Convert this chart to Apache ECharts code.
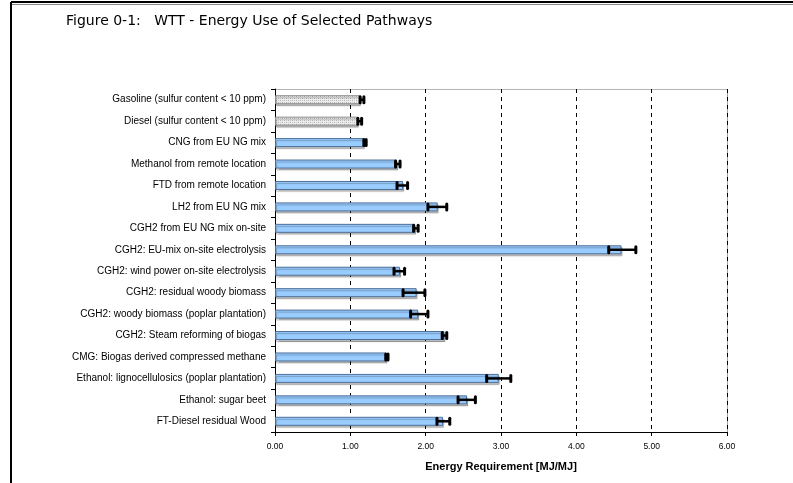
<!DOCTYPE html>
<html><head><meta charset="utf-8">
<script src="https://cdn.jsdelivr.net/npm/echarts@6/dist/echarts.min.js"></script>
<style>html,body{margin:0;padding:0;background:#fff}#c{width:793px;height:483px}</style>
</head><body><div id="c"></div>
<script>
const categories = [
  "Gasoline (sulfur content < 10 ppm)",
  "Diesel (sulfur content < 10 ppm)",
  "CNG from EU NG mix",
  "Methanol from remote location",
  "FTD from remote location",
  "LH2 from EU NG mix",
  "CGH2 from EU NG mix on-site",
  "CGH2: EU-mix on-site electrolysis",
  "CGH2: wind power on-site electrolysis",
  "CGH2: residual woody biomass",
  "CGH2: woody biomass (poplar plantation)",
  "CGH2: Steam reforming of biogas",
  "CMG: Biogas derived compressed methane",
  "Ethanol: lignocellulosics (poplar plantation)",
  "Ethanol: sugar beet",
  "FT-Diesel residual Wood"
];
const values  = [1.13, 1.10, 1.18, 1.62, 1.70, 2.16, 1.86, 4.60, 1.66, 1.88, 1.90, 2.25, 1.48, 2.97, 2.55, 2.23];
const errLow  = [1.13, 1.10, 1.18, 1.60, 1.62, 2.03, 1.84, 4.43, 1.58, 1.70, 1.80, 2.22, 1.47, 2.81, 2.43, 2.15];
const errHigh = [1.18, 1.15, 1.21, 1.66, 1.76, 2.28, 1.90, 4.79, 1.72, 1.99, 2.03, 2.28, 1.50, 3.13, 2.66, 2.32];
const fossilFlags = [true, true, false, false, false, false, false, false, false, false, false, false, false, false, false, false];
const xTicks = [0, 1, 2, 3, 4, 5, 6];

// dotted pattern for fossil references
const pc = document.createElement('canvas');
pc.width = 4; pc.height = 4;
const g = pc.getContext('2d');
g.fillStyle = '#ececec'; g.fillRect(0,0,4,4);
g.fillStyle = '#b0b0b0';
g.fillRect(0,0,1,1); g.fillRect(2,2,1,1);
g.fillStyle = '#cfcfcf'; g.fillRect(2,0,1,1); g.fillRect(0,2,1,1);

const barData = values.map((v, i) => ({
  value: v,
  itemStyle: fossilFlags[i] ? { color: { image: pc, repeat: 'repeat' }, borderColor: '#8a8a8a' } : {}
}));
const errData = categories.map((c, i) => [i, errLow[i], errHigh[i]]);

const chart = echarts.init(document.getElementById('c'), null, { renderer: 'canvas' });
chart.setOption({
  animation: false,
  backgroundColor: '#fff',
  title: {
    text: 'Figure 0-1:   WTT - Energy Use of Selected Pathways',
    left: 61, top: 9,
    textStyle: { fontFamily: 'DejaVu Sans', fontSize: 14, fontWeight: 'normal', color: '#000' }
  },
  graphic: [
    { type: 'line', shape: { x1: 11, y1: 2, x2: 793, y2: 2 }, style: { stroke: '#000', lineWidth: 2 } },
    { type: 'line', shape: { x1: 11, y1: 4.5, x2: 793, y2: 4.5 }, style: { stroke: '#888', lineWidth: 1 } },
    { type: 'line', shape: { x1: 11, y1: 2, x2: 11, y2: 483 }, style: { stroke: '#000', lineWidth: 2 } },
    { type: 'line', shape: { x1: 275, y1: 89.5, x2: 727.5, y2: 89.5 }, style: { stroke: '#b4b4b4', lineWidth: 1 } },
    { type: 'line', shape: { x1: 727.5, y1: 89.5, x2: 727.5, y2: 432 }, style: { stroke: '#a0a0a0', lineWidth: 1 } }
  ],
  grid: { left: 275, right: 66, top: 89, bottom: 51, containLabel: false },
  xAxis: {
    type: 'value', min: 0, max: 6, interval: 1,
    name: 'Energy Requirement [MJ/MJ]', nameLocation: 'middle', nameGap: 29,
    nameTextStyle: { fontFamily: 'Liberation Sans', fontSize: 11, fontWeight: 'bold', color: '#000' },
    axisLine: { show: true, lineStyle: { color: '#000', width: 1 } },
    axisTick: { show: true, length: 4, lineStyle: { color: '#000' } },
    axisLabel: { fontFamily: 'Liberation Sans', fontSize: 8.5, color: '#000', margin: 10,
      formatter: v => xTicks.includes(v) ? v.toFixed(2) : '' },
    splitLine: { show: true, lineStyle: { color: '#000', type: [4, 4], width: 1 } }
  },
  yAxis: {
    type: 'category', data: categories, inverse: true,
    axisLine: { show: true, lineStyle: { color: '#000', width: 1 } },
    axisTick: { show: true, length: 4, lineStyle: { color: '#000' } },
    axisLabel: { fontFamily: 'Liberation Sans', fontSize: 10, color: '#000', margin: 9 },
    splitLine: { show: false }
  },
  series: [
    {
      type: 'bar', data: barData, barWidth: 9,
      itemStyle: { color: '#99ccff', borderColor: '#4d6f99', borderWidth: 1,
        shadowColor: 'rgba(0,0,0,0.25)', shadowOffsetX: 1, shadowOffsetY: 2, shadowBlur: 1 },
      z: 2
    },
    {
      type: 'custom', data: errData, z: 5,
      renderItem: function (params, api) {
        const cat = api.value(0);
        const lo = api.coord([api.value(1), cat]);
        const hi = api.coord([api.value(2), cat]);
        const y = lo[1];
        const h = 9;
        return {
          type: 'group',
          children: [
            { type: 'line', shape: { x1: lo[0], y1: y, x2: hi[0], y2: y }, style: { stroke: '#000', lineWidth: 2.5 } },
            { type: 'rect', shape: { x: lo[0] - 1.5, y: y - h / 2, width: 3, height: h, r: 1.5 }, style: { fill: '#000' } },
            { type: 'rect', shape: { x: hi[0] - 1.5, y: y - h / 2, width: 3, height: h, r: 1.5 }, style: { fill: '#000' } }
          ]
        };
      }
    }
  ]
});
</script>
</body></html>
